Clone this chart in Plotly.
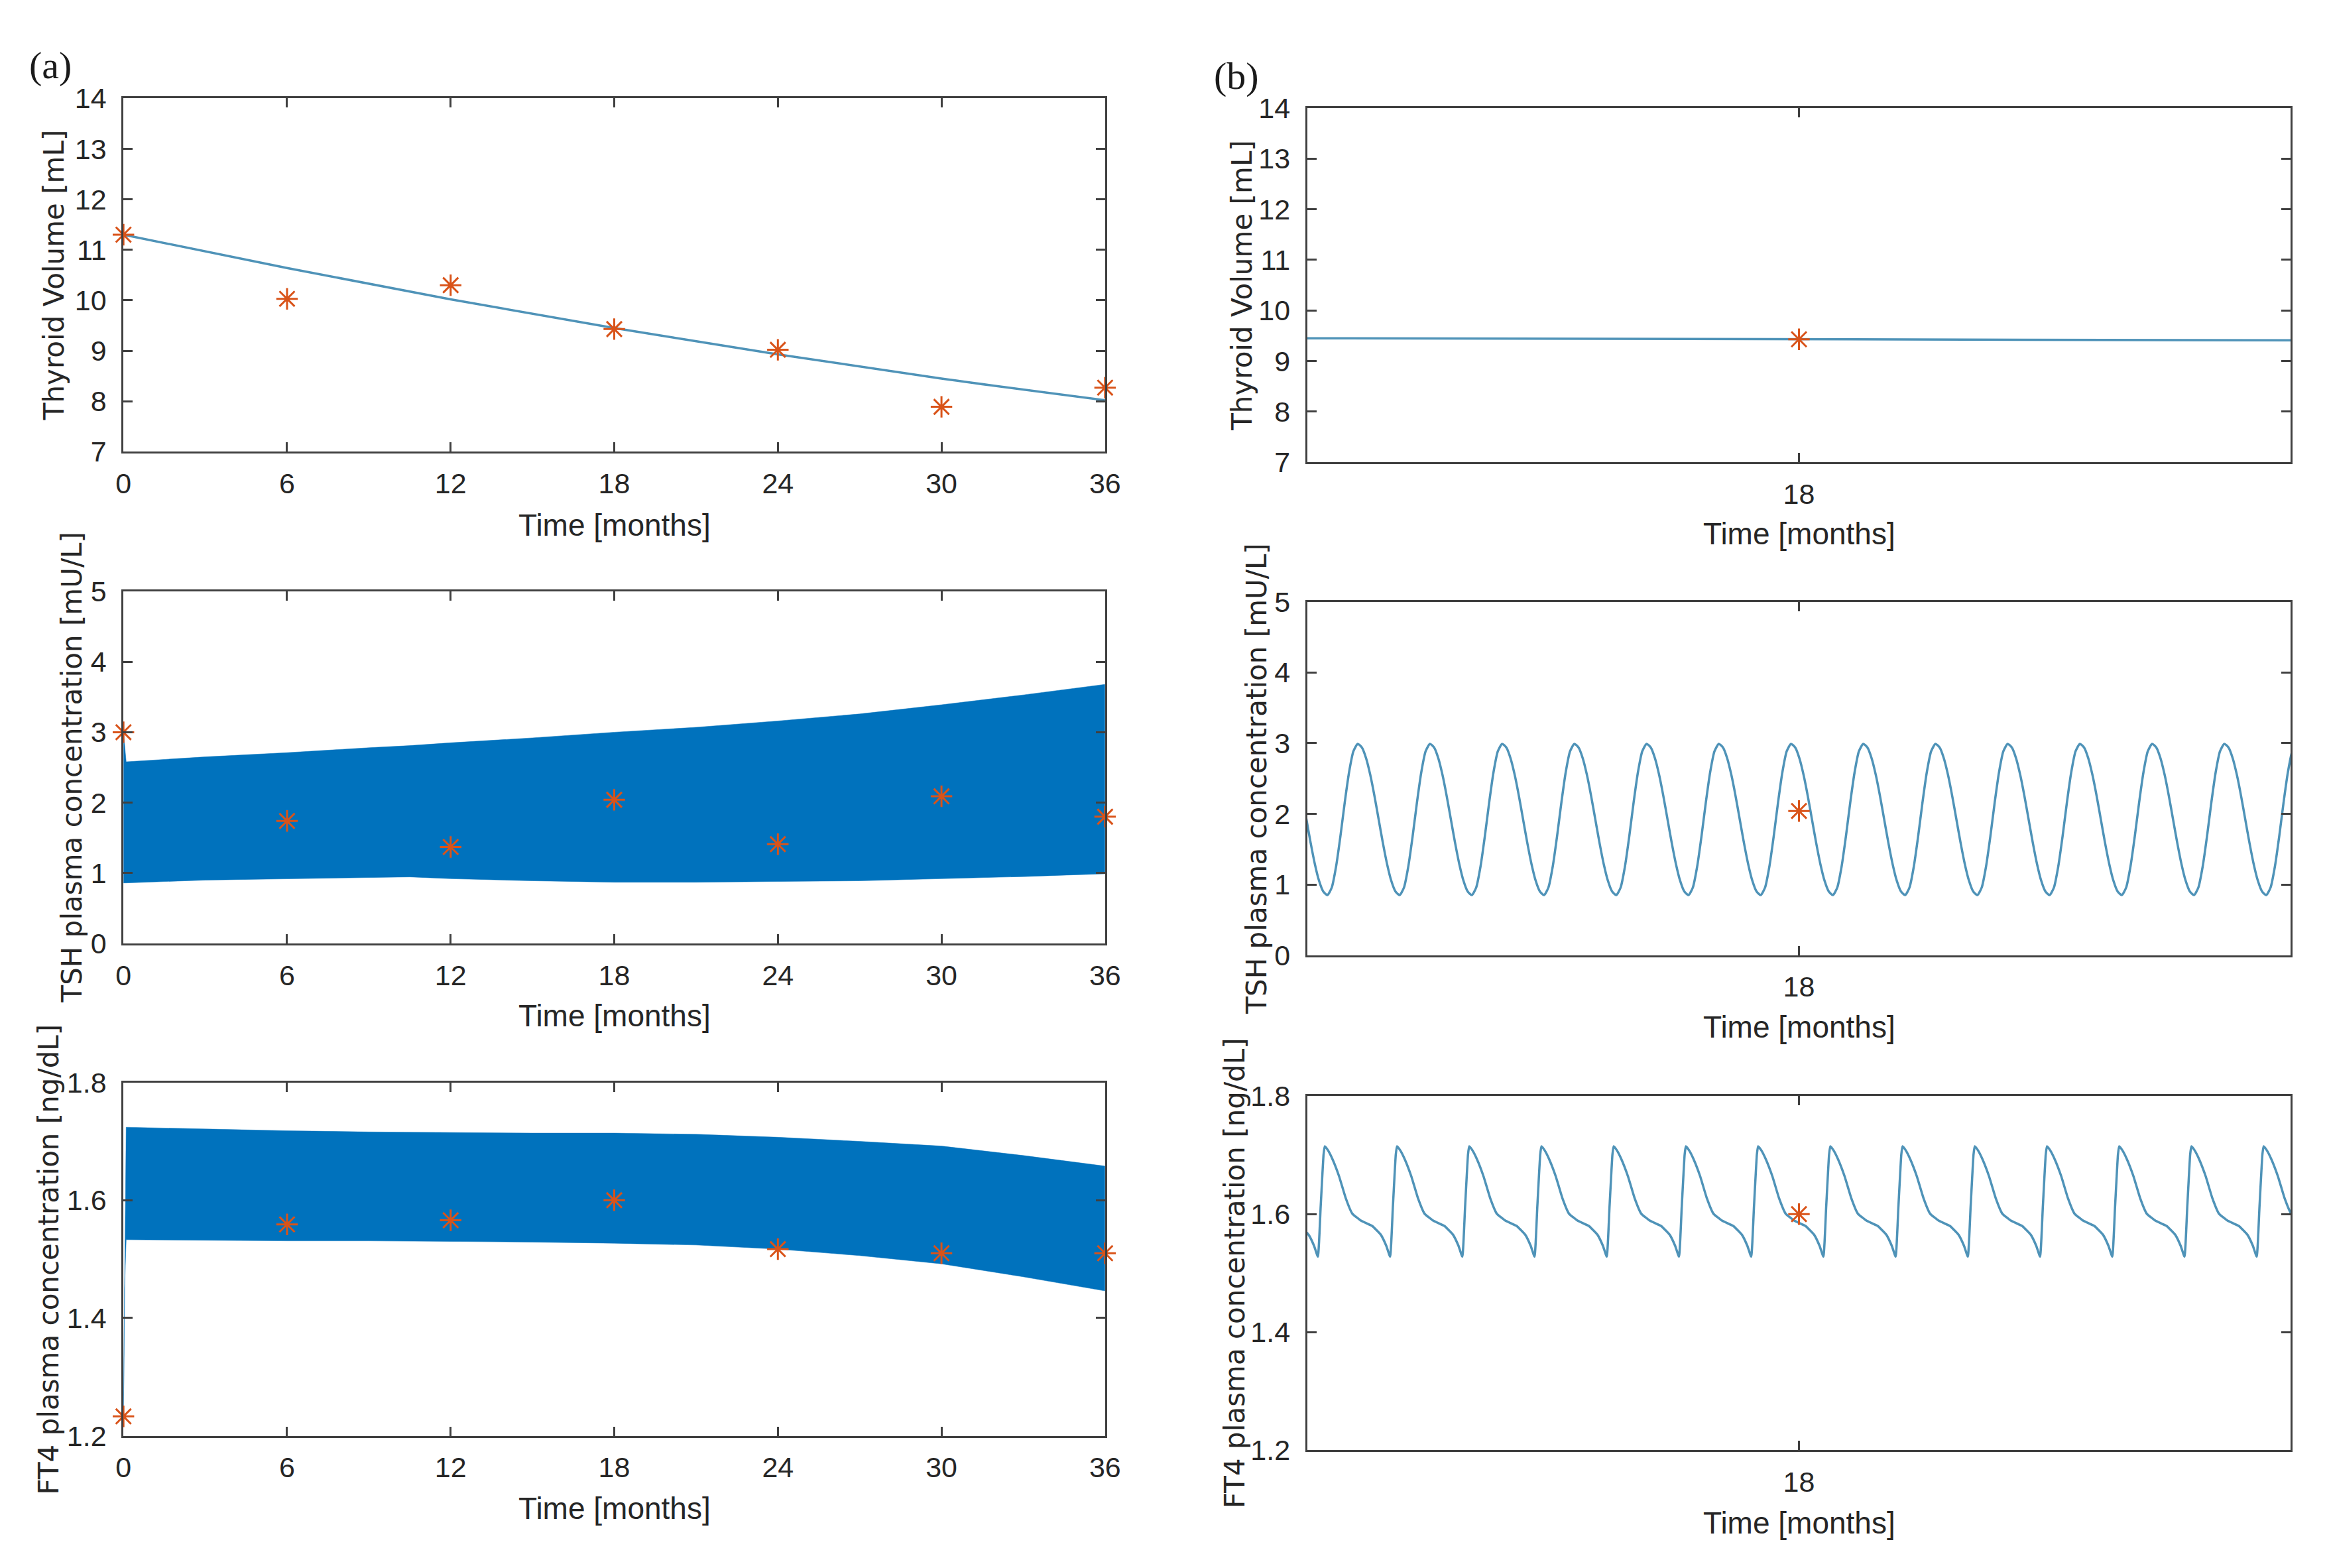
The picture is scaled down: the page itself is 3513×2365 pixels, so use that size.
import plotly.graph_objects as go

W, H = 3513, 2365

# ---------------- data ----------------
month_ticks = [0, 6, 12, 18, 24, 30, 36]

meas_months = [0, 6, 12, 18, 24, 30, 36]
meas_volume = [11.30, 10.03, 10.30, 9.43, 9.02, 7.89, 8.27]
meas_tsh = [3.00, 1.74, 1.37, 2.04, 1.41, 2.09, 1.80]
meas_ft4 = [1.233, 1.559, 1.566, 1.600, 1.517, 1.510, 1.510]

model_volume_months = [0, 6, 12, 18, 24, 30, 36]
model_volume = [11.30, 10.64, 10.02, 9.45, 8.93, 8.45, 8.02]

tsh_env_months = [0, 0.1, 3, 6, 9, 10.5, 12, 15, 18, 21, 24, 27, 30, 33, 36]
tsh_upper = [3.00, 2.58, 2.65, 2.71, 2.78, 2.81, 2.85, 2.92, 3.00, 3.07, 3.16, 3.26, 3.39, 3.53, 3.68]
tsh_lower = [0.86, 0.86, 0.90, 0.92, 0.94, 0.945, 0.92, 0.89, 0.87, 0.87, 0.88, 0.89, 0.92, 0.95, 0.99]

ft4_env_months = [0, 0.04, 0.1, 3, 6, 9, 12, 15, 18, 21, 24, 27, 30, 33, 36]
ft4_upper = [1.233, 1.45, 1.724, 1.721, 1.718, 1.716, 1.715, 1.714, 1.714, 1.712, 1.707, 1.700, 1.692, 1.676, 1.658]
ft4_lower = [1.233, 1.45, 1.533, 1.532, 1.531, 1.531, 1.530, 1.529, 1.527, 1.524, 1.517, 1.506, 1.492, 1.470, 1.446]

# zoomed window (b): centred on month 18, one circadian cycle per day
zoom_center_month = 18
zoom_halfwidth_days = 6.81
days_per_month = 30.0
zoom_volume = [9.45, 9.41]          # at left and right window edges

# one daily cycle, phase measured from the peak (fraction of a day)
tsh_cycle_phase = [0, .058, .116, .174, .232, .29, .348, .406, .464, .522, .58,
                   .64, .70, .76, .82, .88, .94]
tsh_cycle_value = [2.99, 2.938, 2.786, 2.549, 2.251, 1.92, 1.589, 1.291, 1.054, 0.902, 0.85,
                   0.956, 1.253, 1.681, 2.159, 2.587, 2.884]
tsh_peak_offset_days = -0.11

ft4_cycle_phase = [0, .045, .107, .198, .29, .38, .50, .655, .776, .852, .904, .943, .983]
ft4_cycle_value = [1.715, 1.708, 1.693, 1.664, 1.627, 1.601, 1.589, 1.580, 1.565, 1.546, 1.528, 1.613, 1.701]
ft4_peak_offset_days = -0.566

# ---------------- styling ----------------
LINE = "#4F93B8"
BAND = "#0072BD"
STAR = "#D95319"
AX = "#404040"
TXT = "#262626"
TICKFONT = dict(family="Liberation Sans, Arial, sans-serif", size=43, color=TXT)
TITLEFONT = dict(family="Liberation Sans, Arial, sans-serif", size=46, color=TXT)
YTITLEFONT = dict(family="DejaVu Sans, sans-serif", size=42, color=TXT)


def px_x(p):
    return p / W


def px_y(p):
    return 1 - p / H


# plot boxes in pixels: (left, right, top, bottom)
boxes = [
    (176, 1672, 127, 671),
    (176, 1672, 886, 1428),
    (176, 1672, 1642, 2186),
    (1980, 3479, 142, 687),
    (1980, 3479, 902, 1446),
    (1980, 3479, 1663, 2208),
]

zlo = zoom_center_month - zoom_halfwidth_days / days_per_month
zhi = zoom_center_month + zoom_halfwidth_days / days_per_month

xranges = [[0, 36]] * 3 + [[zlo, zhi]] * 3
yranges = [[7, 14], [0, 5], [1.2, 1.8], [7, 14], [0, 5], [1.2, 1.8]]
ytickvals = [list(range(7, 15)), list(range(0, 6)), [1.2, 1.4, 1.6, 1.8]] * 2
ytickformat = ["", "", ".1f"] * 2


def tile(phases, values, offset):
    xs, ys = [], []
    for k in range(-9, 9):
        for ph, v in zip(phases, values):
            t = offset + k + ph
            if -zoom_halfwidth_days - 1.0 <= t <= zoom_halfwidth_days + 1.0:
                xs.append(zoom_center_month + t / days_per_month)
                ys.append(v)
    return xs, ys


fig = go.Figure()


def ax(i):
    return ("x" if i == 1 else f"x{i}"), ("y" if i == 1 else f"y{i}")


def band(i, xs, up, lo):
    xa, ya = ax(i)
    fig.add_trace(go.Scatter(x=xs, y=up, mode="lines", line=dict(width=0.5, color=BAND),
                             xaxis=xa, yaxis=ya, showlegend=False, hoverinfo="skip"))
    fig.add_trace(go.Scatter(x=xs, y=lo, mode="lines", line=dict(width=0.5, color=BAND),
                             fill="tonexty", fillcolor=BAND,
                             xaxis=xa, yaxis=ya, showlegend=False, hoverinfo="skip"))


def curve(i, xs, ys, shape="spline", smoothing=1.0):
    xa, ya = ax(i)
    fig.add_trace(go.Scatter(x=xs, y=ys, mode="lines",
                             line=dict(width=3.5, color=LINE, shape=shape, smoothing=smoothing),
                             xaxis=xa, yaxis=ya, showlegend=False))


def stars(i, xs, ys):
    xa, ya = ax(i)
    fig.add_trace(go.Scatter(x=xs, y=ys, mode="markers", cliponaxis=False,
                             marker=dict(symbol="asterisk-open", size=27, color=STAR,
                                         line=dict(color=STAR, width=3)),
                             xaxis=xa, yaxis=ya, showlegend=False))


# (a) panels
curve(1, model_volume_months, model_volume)
stars(1, meas_months, meas_volume)

band(2, tsh_env_months, tsh_upper, tsh_lower)
stars(2, meas_months, meas_tsh)

band(3, ft4_env_months, ft4_upper, ft4_lower)
stars(3, meas_months, meas_ft4)

# (b) panels
i18 = meas_months.index(18)
curve(4, [zlo, zhi], zoom_volume, shape="linear")
stars(4, [meas_months[i18]], [meas_volume[i18]])

tx, ty = tile(tsh_cycle_phase, tsh_cycle_value, tsh_peak_offset_days)
curve(5, tx, ty, smoothing=0.6)
stars(5, [meas_months[i18]], [meas_tsh[i18]])

fx, fy = tile(ft4_cycle_phase, ft4_cycle_value, ft4_peak_offset_days)
curve(6, fx, fy, smoothing=0.4)
stars(6, [meas_months[i18]], [meas_ft4[i18]])

layout = dict(
    width=W, height=H, margin=dict(l=0, r=0, t=0, b=0),
    paper_bgcolor="white", plot_bgcolor="white", showlegend=False,
)

for n, (l, r, t, b) in enumerate(boxes, start=1):
    xk = "xaxis" if n == 1 else f"xaxis{n}"
    yk = "yaxis" if n == 1 else f"yaxis{n}"
    xa, ya = ax(n)
    common = dict(showline=True, linecolor=AX, linewidth=3, mirror="ticks",
                  ticks="inside", ticklen=14, tickwidth=2.5, tickcolor=AX,
                  showgrid=False, zeroline=False, tickfont=TICKFONT, fixedrange=True)
    if n <= 3:
        xt = dict(tickvals=month_ticks, ticktext=[str(v) for v in month_ticks])
    else:
        xt = dict(tickvals=[zoom_center_month], ticktext=[str(zoom_center_month)])
    layout[xk] = dict(domain=[px_x(l), px_x(r)], range=xranges[n - 1], anchor=ya,
                      ticklabelstandoff=8, **xt, **common)
    layout[yk] = dict(domain=[px_y(b), px_y(t)], range=yranges[n - 1], anchor=xa,
                      tickvals=ytickvals[n - 1], tickformat=ytickformat[n - 1],
                      ticklabelstandoff=14, **common)

fig.update_layout(**layout)

# axis titles
ylabels = ["Thyroid Volume [mL]", "TSH plasma concentration [mU/L]",
           "FT4 plasma concentration [ng/dL]"] * 2
ylabel_x = [71, 98, 62, 1880, 1903, 1869]
xtitle_gap = [113, 111, 112, 110, 111, 112]

for n, (l, r, t, b) in enumerate(boxes):
    fig.add_annotation(text="Time [months]", xref="paper", yref="paper",
                       x=px_x((l + r) / 2), y=px_y(b + xtitle_gap[n]),
                       xanchor="center", yanchor="middle", showarrow=False, font=TITLEFONT)
    fig.add_annotation(text=ylabels[n], xref="paper", yref="paper",
                       x=px_x(ylabel_x[n]), y=px_y((t + b) / 2), textangle=-90,
                       xanchor="center", yanchor="middle", showarrow=False, font=YTITLEFONT)

PANELFONT = dict(family="Liberation Serif, Times New Roman, serif", size=58, color="#1a1a1a")
fig.add_annotation(text="(a)", xref="paper", yref="paper", x=px_x(65), y=px_y(76),
                   xanchor="center", yanchor="middle", showarrow=False, font=PANELFONT)
fig.add_annotation(text="(b)", xref="paper", yref="paper", x=px_x(1872), y=px_y(92),
                   xanchor="center", yanchor="middle", showarrow=False, font=PANELFONT)

post = """
var st = document.createElement('style');
st.innerHTML = 'html,body{margin:0;padding:0;overflow:hidden;}';
document.head.appendChild(st);
"""
fig.write_html("out.html", post_script=post, config={"displayModeBar": False})
